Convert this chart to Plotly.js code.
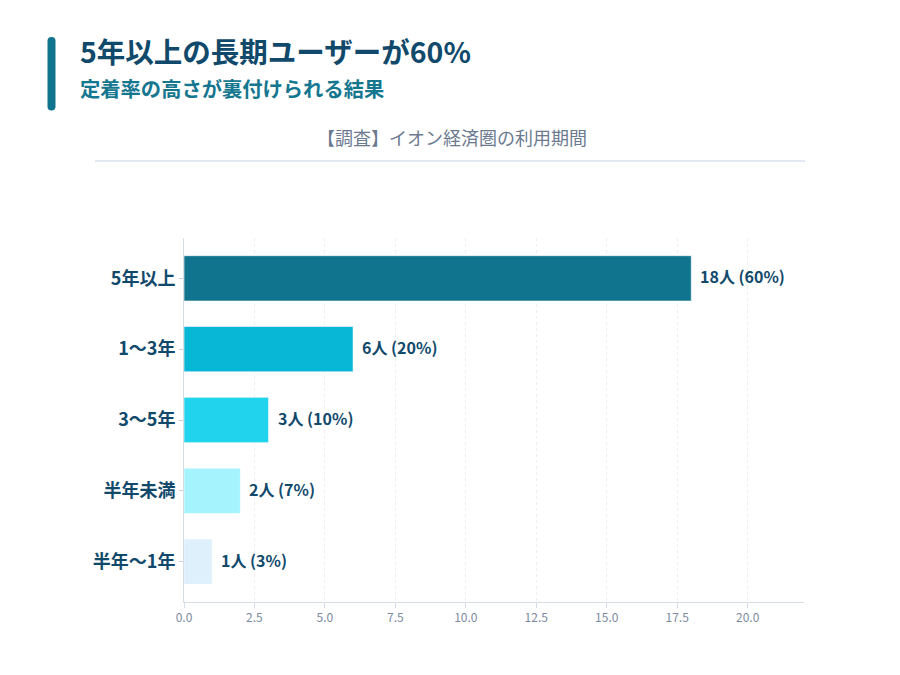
<!DOCTYPE html>
<html>
<head>
<meta charset="utf-8">
<script src="https://cdn.plot.ly/plotly-3.0.1.min.js"></script>
<style>
  html, body { margin: 0; padding: 0; background: #ffffff; }
  #chart { width: 900px; height: 675px; }
</style>
</head>
<body>
<div id="chart"></div>
<script>
// 利用期間の区分（上から順）
const periods = ['5年以上', '1〜3年', '3〜5年', '半年未満', '半年〜1年'];
// 回答者数（人）
const counts = [18, 6, 3, 2, 1];
// 構成比（%）
const shares = [60, 20, 10, 7, 3];
// 区分ごとのバー色
const barColors = ['#11748f', '#08b6d5', '#22d3ee', '#a5f3fc', '#dff0fd'];
// x軸の目盛
const xTicks = [0, 2.5, 5, 7.5, 10, 12.5, 15, 17.5, 20];

const FONT = '"Noto Sans CJK JP", "Noto Sans", sans-serif';
const DARK = '#11496b';

const labels = counts.map((c, i) => `${c}人 (${shares[i]}%)`);

const trace = {
  type: 'bar',
  orientation: 'h',
  y: periods,
  x: counts,
  marker: { color: barColors, line: { color: 'rgba(255,255,255,0.6)', width: 1 } },
  hoverinfo: 'skip'
};

// plot area in pixels: x 184–804, y 238–602
const L = 184, R = 804, T = 238, B = 602;
const px = x => (x - L) / (R - L);
const py = y => (B - y) / (B - T);

// rounded accent bar next to the heading
const bx0 = 47.5, bx1 = 55.5, by0 = 37, by1 = 110.5, r = 4;
const accentPath =
  `M ${px(bx0)} ${py(by0 + r)} Q ${px(bx0)} ${py(by0)} ${px(bx0 + r)} ${py(by0)} ` +
  `Q ${px(bx1)} ${py(by0)} ${px(bx1)} ${py(by0 + r)} ` +
  `L ${px(bx1)} ${py(by1 - r)} Q ${px(bx1)} ${py(by1)} ${px(bx1 - r)} ${py(by1)} ` +
  `Q ${px(bx0)} ${py(by1)} ${px(bx0)} ${py(by1 - r)} Z`;

const annotations = [
  {
    text: '<b>5年以上の長期ユーザーが60%</b>',
    xref: 'paper', yref: 'paper', x: px(78), y: py(50),
    xanchor: 'left', yanchor: 'middle', showarrow: false,
    font: { family: FONT, size: 28.5, color: DARK }
  },
  {
    text: '<b>定着率の高さが裏付けられる結果</b>',
    xref: 'paper', yref: 'paper', x: px(78), y: py(88),
    xanchor: 'left', yanchor: 'middle', showarrow: false,
    font: { family: FONT, size: 20.3, color: '#15768f' }
  },
  {
    text: '【調査】イオン経済圏の利用期間',
    xref: 'paper', yref: 'paper', x: px(452), y: py(137),
    xanchor: 'center', yanchor: 'middle', showarrow: false,
    font: { family: FONT, size: 18, color: '#6b7a8f' }
  }
].concat(counts.map((c, i) => ({
  text: `<b>${labels[i]}</b>`,
  x: c, y: periods[i], xref: 'x', yref: 'y',
  xanchor: 'left', yanchor: 'middle', xshift: 7, yshift: 2, showarrow: false,
  font: { family: FONT, size: 16, color: DARK }
})));

const layout = {
  width: 900, height: 675,
  margin: { l: L, r: 900 - R, t: T, b: 675 - B, pad: 0 },
  paper_bgcolor: '#ffffff',
  plot_bgcolor: '#ffffff',
  showlegend: false,
  bargap: 0.36,
  font: { family: FONT },
  xaxis: {
    range: [0, 22],
    tickvals: xTicks,
    ticktext: xTicks.map(v => v.toFixed(1)),
    showgrid: true,
    gridcolor: '#eceef2',
    griddash: '3px,3px',
    gridwidth: 1,
    zeroline: false,
    showline: true,
    linecolor: '#d5dde8',
    linewidth: 1,
    ticks: 'outside',
    ticklen: 5,
    tickcolor: '#d5dde8',
    tickfont: { family: FONT, size: 12, color: '#7b8aa0' },
    fixedrange: true
  },
  yaxis: {
    type: 'category',
    categoryorder: 'array',
    categoryarray: periods,
    range: [4.57, -0.57],
    showgrid: false,
    zeroline: false,
    showline: true,
    linecolor: '#d5dde8',
    linewidth: 1,
    ticks: 'outside',
    ticklen: 4,
    tickcolor: '#c6d0dc',
    tickfont: { family: FONT, size: 18, color: DARK, weight: 'bold' },
    ticklabelstandoff: 0,
    fixedrange: true
  },
  shapes: [
    {
      type: 'path', xref: 'paper', yref: 'paper', path: accentPath,
      fillcolor: '#11748f', line: { width: 0 }
    },
    {
      type: 'line', xref: 'paper', yref: 'paper',
      x0: px(95), x1: px(805), y0: py(161), y1: py(161),
      line: { color: '#e2e8f0', width: 2 }
    }
  ],
  annotations: annotations
};

Plotly.newPlot('chart', [trace], layout, { displayModeBar: false, staticPlot: true });
</script>
</body>
</html>
